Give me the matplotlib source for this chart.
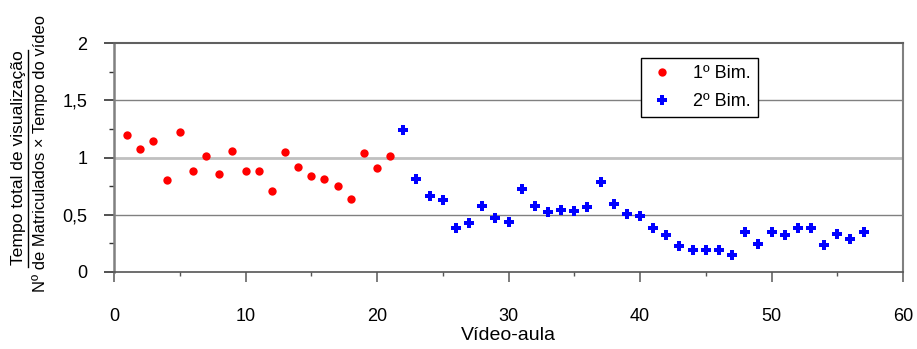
import matplotlib
matplotlib.use("Agg")
import matplotlib.pyplot as plt
from matplotlib.lines import Line2D
from matplotlib.ticker import MultipleLocator

plt.rcParams['font.family'] = ['Liberation Sans', 'DejaVu Sans']

x_bim1 = list(range(1, 22))
y_bim1 = [1.20, 1.07, 1.14, 0.80, 1.22, 0.88, 1.015, 0.86, 1.055, 0.88, 0.88,
          0.71, 1.05, 0.915, 0.84, 0.815, 0.75, 0.635, 1.035, 0.91, 1.01]
x_bim2 = list(range(22, 58))
y_bim2 = [1.24, 0.81, 0.66, 0.625, 0.385, 0.43, 0.58, 0.475, 0.44, 0.725,
          0.58, 0.52, 0.545, 0.535, 0.565, 0.785, 0.595, 0.51, 0.485, 0.385,
          0.325, 0.23, 0.19, 0.19, 0.19, 0.15, 0.345, 0.245, 0.345, 0.325,
          0.385, 0.385, 0.24, 0.335, 0.285, 0.35]
labels = ["1º Bim.", "2º Bim."]
ytick_vals = [0, 0.5, 1, 1.5, 2]
ytick_labels = ["0", "0,5", "1", "1,5", "2"]
xlabel = "Vídeo-aula"
ylabel_num = "Tempo total de visualização"
ylabel_den = "Nº de Matriculados × Tempo do vídeo"

FS = 13
W, H = 917, 349
fig = plt.figure(figsize=(W / 100, H / 100), dpi=100)
ax = fig.add_axes([114 / W, 1 - 272 / H, (903 - 114) / W, (272 - 43) / H])

ax.set_xlim(0, 60)
ax.set_ylim(0, 2)

# gridlines
for yv, c, lw in [(0.5, '#808080', 1.0), (1.0, '#c0c0c0', 2.0), (1.5, '#808080', 1.0)]:
    ax.axhline(yv, color=c, lw=lw, zorder=1)

ax.plot(x_bim1, y_bim1, linestyle='none', marker='o', markersize=6,
        color='#ff0000', markeredgewidth=0, label=labels[0], zorder=3)
ax.plot(x_bim2, y_bim2, linestyle='none', marker='P', markersize=7.5,
        color='#0000ff', markeredgewidth=0, label=labels[1], zorder=3)

ax.spines['left'].set_color('#808080')
ax.spines['left'].set_linewidth(1.8)
ax.spines['right'].set_color('#808080')
ax.spines['right'].set_linewidth(1.5)
ax.spines['top'].set_color('#606060')
ax.spines['top'].set_linewidth(1.5)
ax.spines['bottom'].set_color('#555555')
ax.spines['bottom'].set_linewidth(1.2)

ax.set_xticks(range(0, 61, 10))
ax.xaxis.set_minor_locator(MultipleLocator(5))
ax.set_yticks(ytick_vals)
ax.set_yticklabels(ytick_labels)
ax.yaxis.set_minor_locator(MultipleLocator(0.25))

ax.tick_params(axis='both', which='major', direction='out', length=7, width=1.2,
               color='#333333', labelsize=FS, labelcolor='black', pad=12)
ax.tick_params(axis='x', which='major', color='#666666', pad=19)
ax.tick_params(axis='both', which='minor', direction='out', length=3.5, width=1.0,
               color='#333333')
ax.tick_params(axis='x', which='minor', color='#555555', length=3)

ax.set_xlabel(xlabel, fontsize=14, labelpad=1.5)

# fraction-style y label
fig.text(19 / W, 1 - 158 / H, ylabel_num, rotation=90, ha='center', va='center', fontsize=12.6)
fig.text(40 / W, 1 - 154 / H, ylabel_den, rotation=90, ha='center', va='center', fontsize=11.9)
fig.add_artist(Line2D([27.5 / W, 27.5 / W], [1 - 50 / H, 1 - 267 / H], color='black', lw=1.0,
                      transform=fig.transFigure))

leg = ax.legend(loc='upper left',
                bbox_to_anchor=((641 - 114) / (903 - 114), 1 - (58 - 43) / (272 - 43)),
                frameon=True, fancybox=False, fontsize=FS, markerfirst=True,
                borderpad=0.4, handlelength=1.5, handletextpad=1.0,
                labelspacing=0.6, borderaxespad=0)
leg.get_frame().set_edgecolor('black')
leg.get_frame().set_linewidth(1.0)
leg.get_frame().set_alpha(1)

fig.savefig("out.png", dpi=100)
